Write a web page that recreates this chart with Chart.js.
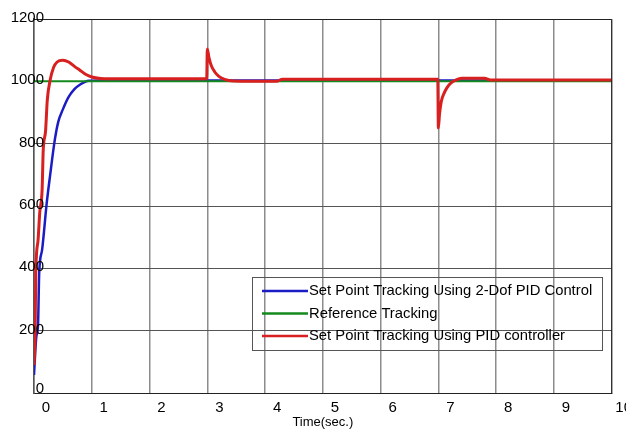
<!DOCTYPE html>
<html lang="en">
<head>
  <meta charset="UTF-8">
  <title>Set Point Tracking</title>
  <script src="https://cdn.jsdelivr.net/npm/chart.js"></script>
  <style>
    body {
      margin: 0;
      background-color: #ffffff;
    }
    canvas {
      display: block;
    }
  </style>
</head>
<body>
  <canvas id="trackingChart" width="626" height="432"></canvas>

  <script>
    // values (time in seconds)
    const xTicks = [0, 1, 2, 3, 4, 5, 6, 7, 8, 9, 10];
    const yTicks = [0, 200, 400, 600, 800, 1000, 1200];

    const seriesNames = [
      'Set Point Tracking Using 2-Dof PID Control',
      'Reference Tracking',
      'Set Point Tracking Using PID controller'
    ];

    const blueTime = [0, 0.04, 0.07, 0.09, 0.14, 0.22, 0.28, 0.36, 0.42, 0.5, 0.6, 0.7, 0.8, 0.95, 1.2, 10];
    const blueValues = [58, 180, 220, 385, 459, 609, 700, 812, 870, 910, 950, 975, 990, 1002, 1003, 1003];

    const greenTime = [0, 10];
    const greenValues = [1000, 1000];

    const redTime = [0, 0.02, 0.03, 0.07, 0.1, 0.14, 0.16, 0.2, 0.23, 0.28, 0.34, 0.4, 0.5, 0.6, 0.7, 0.8, 0.9, 1.0, 1.15, 1.3,
                     2.99, 3.0, 3.03, 3.07, 3.13, 3.2, 3.3, 3.45, 4.2, 4.3,
                     6.99, 7.0, 7.02, 7.05, 7.1, 7.15, 7.22, 7.3, 7.4, 7.8, 7.9, 10];
    const redValues = [90, 200, 380, 490, 580, 650, 780, 840, 940, 1004, 1045, 1062, 1068, 1062, 1048, 1035, 1022, 1014, 1009, 1008,
                       1008, 1104, 1075, 1050, 1030, 1016, 1006, 1001, 1000, 1007,
                       1007, 850, 895, 935, 962, 980, 995, 1004, 1010, 1010, 1004, 1004];

    const lineColors = ['#1c1cc4', '#148a1e', '#d82020'];
    const fontFamily = 'Arial, "Liberation Sans", sans-serif';

    function toPoints(xs, ys) {
      return xs.map((x, i) => ({ x: x, y: ys[i] }));
    }

    // frame round the plot, y labels that overlap the axis, legend box inside the plot
    const framePlugin = {
      id: 'frame',
      afterDraw(chart) {
        const c = chart.ctx;
        const a = chart.chartArea;
        c.save();
        c.strokeStyle = '#222';
        c.lineWidth = 1;
        c.beginPath();
        c.moveTo(a.left, a.top + 0.5);
        c.lineTo(a.right, a.top + 0.5);
        c.lineTo(a.right, a.bottom);
        c.stroke();

        // y tick labels (the original has them sitting over the axis line)
        const ys = chart.scales.y;
        c.font = '15px ' + fontFamily;
        c.fillStyle = '#000';
        c.textAlign = 'right';
        c.textBaseline = 'middle';
        yTicks.forEach(v => {
          const nudge = v === 0 ? -4 : -1;
          c.fillText(String(v), a.left + 10, ys.getPixelForValue(v) + nudge);
        });

        // legend
        const boxL = 252, boxT = 277, boxW = 350, boxH = 73;
        c.strokeStyle = '#555';
        c.strokeRect(boxL + 0.5, boxT + 0.5, boxW, boxH);
        c.font = '14.8px ' + fontFamily;
        c.textAlign = 'left';
        chart.data.datasets.forEach((ds, i) => {
          const y = boxT + 14 + i * 22.5;
          c.strokeStyle = ds.borderColor;
          c.lineWidth = 2.5;
          c.beginPath();
          c.moveTo(boxL + 10, y);
          c.lineTo(boxL + 56, y);
          c.stroke();
          c.fillText(ds.label, boxL + 57, y);
        });
        c.restore();
      }
    };

    const ctx = document.getElementById('trackingChart').getContext('2d');
    const chart = new Chart(ctx, {
      type: 'line',
      data: {
        datasets: [
          {
            label: seriesNames[0],
            data: toPoints(blueTime, blueValues),
            borderColor: lineColors[0],
            borderWidth: 2.5,
            order: 2
          },
          {
            label: seriesNames[1],
            data: toPoints(greenTime, greenValues),
            borderColor: lineColors[1],
            borderWidth: 2,
            order: 1
          },
          {
            label: seriesNames[2],
            data: toPoints(redTime, redValues),
            borderColor: lineColors[2],
            borderWidth: 3,
            order: 0
          }
        ]
      },
      options: {
        responsive: false,
        animation: false,
        layout: { padding: { top: 19, right: 9, left: 0, bottom: 0 } },
        elements: {
          point: { radius: 0 },
          line: { cubicInterpolationMode: 'monotone', fill: false }
        },
        plugins: {
          legend: { display: false },
          tooltip: { enabled: false }
        },
        scales: {
          x: {
            type: 'linear',
            min: 0,
            max: 10,
            afterBuildTicks(scale) {
              scale.ticks = xTicks.map(v => ({ value: v }));
            },
            afterFit(scale) {
              scale.height = 39;
            },
            grid: { color: '#8c8c8c', lineWidth: 1.5, drawTicks: false },
            border: { color: '#222', width: 1 },
            ticks: {
              color: '#000',
              font: { family: fontFamily, size: 15 },
              padding: 6,
              labelOffset: 12,
              maxRotation: 0
            },
            title: {
              display: true,
              text: 'Time(sec.)',
              color: '#000',
              font: { family: fontFamily, size: 13 },
              padding: { top: 0, bottom: 2 }
            }
          },
          y: {
            min: 0,
            max: 1200,
            afterBuildTicks(scale) {
              scale.ticks = yTicks.map(v => ({ value: v }));
            },
            afterFit(scale) {
              scale.width = 34;
            },
            grid: { color: '#555', lineWidth: 1, drawTicks: false },
            border: { color: '#555', width: 1.5 },
            ticks: { display: false }
          }
        }
      },
      plugins: [framePlugin]
    });
  </script>
</body>
</html>
